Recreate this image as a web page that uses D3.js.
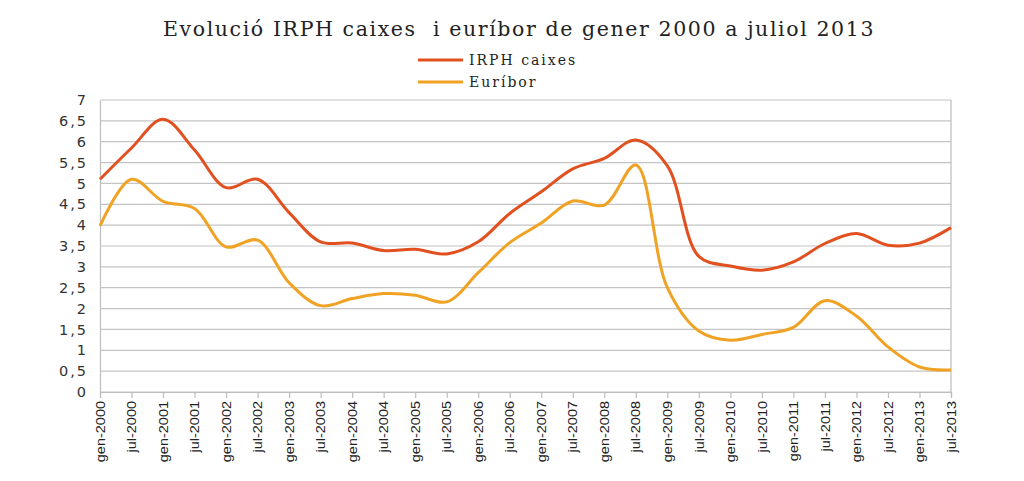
<!DOCTYPE html>
<html>
<head>
<meta charset="utf-8">
<script src="https://cdn.jsdelivr.net/npm/d3@7/dist/d3.min.js"></script>
<style>
  html, body { margin: 0; padding: 0; background: #fff; }
  svg { display: block; }
</style>
</head>
<body>
<svg id="chart" width="1024" height="481"></svg>
<script>
// half-yearly categories
const categories = ['gen-2000','jul-2000','gen-2001','jul-2001','gen-2002','jul-2002','gen-2003','jul-2003',
  'gen-2004','jul-2004','gen-2005','jul-2005','gen-2006','jul-2006','gen-2007','jul-2007',
  'gen-2008','jul-2008','gen-2009','jul-2009','gen-2010','jul-2010','gen-2011','jul-2011',
  'gen-2012','jul-2012','gen-2013','jul-2013'];
const irph = [5.1, 5.85, 6.54, 5.8, 4.9, 5.1, 4.3, 3.6, 3.57, 3.39, 3.42, 3.31, 3.6, 4.28,
  4.8, 5.35, 5.6, 6.04, 5.42, 3.25, 3.02, 2.92, 3.12, 3.56, 3.8, 3.52, 3.57, 3.94];
const euribor = [3.98, 5.1, 4.57, 4.4, 3.48, 3.64, 2.62, 2.07, 2.24, 2.36, 2.32, 2.16, 2.86, 3.58,
  4.05, 4.58, 4.48, 5.44, 2.5, 1.46, 1.24, 1.38, 1.55, 2.19, 1.82, 1.08, 0.6, 0.53];
const yTicks = d3.range(0, 7.01, 0.5);
const seriesNames = ['IRPH caixes', 'Euríbor'];
const seriesColors = ['#e2501f', '#f0a224'];

const svg = d3.select('#chart');
const margin = { left: 100, right: 73, top: 100, bottom: 89 };
const W = 1024, H = 481;

const x = d3.scalePoint().domain(categories).range([margin.left, W - margin.right]);
const y = d3.scaleLinear().domain([0, 7]).range([H - margin.bottom, margin.top]);

// title
svg.append('text')
  .attr('x', 519).attr('y', 36)
  .attr('text-anchor', 'middle')
  .attr('font-family', 'DejaVu Serif')
  .attr('font-size', 20.5)
  .attr('letter-spacing', 1.6)
  .attr('fill', '#222')
  .style('white-space', 'pre')
  .text('Evolució IRPH caixes  i euríbor de gener 2000 a juliol 2013');

// gridlines
svg.append('g')
  .selectAll('line')
  .data(yTicks)
  .enter().append('line')
  .attr('x1', margin.left).attr('x2', W - margin.right)
  .attr('y1', d => y(d)).attr('y2', d => y(d))
  .attr('stroke', '#c4c4c4').attr('stroke-width', 1.2);

// y axis
const yAxis = svg.append('g')
  .attr('transform', `translate(${margin.left},0)`)
  .call(d3.axisLeft(y).tickValues(yTicks).tickSize(0).tickPadding(12)
    .tickFormat(d => String(d).replace('.', ',')));
yAxis.select('.domain').attr('stroke', '#bdbdbd').attr('stroke-width', 1.2);
yAxis.selectAll('text')
  .attr('font-family', 'DejaVu Sans')
  .attr('font-size', 14.5)
  .attr('letter-spacing', 2)
  .attr('fill', '#333');

// right border
svg.append('line')
  .attr('x1', W - margin.right).attr('x2', W - margin.right)
  .attr('y1', y(7)).attr('y2', y(0))
  .attr('stroke', '#bdbdbd').attr('stroke-width', 1.2);

// x axis
const xAxis = svg.append('g')
  .attr('transform', `translate(0,${y(0)})`)
  .call(d3.axisBottom(x).tickSize(6).tickPadding(3));
xAxis.select('.domain').attr('stroke', '#bdbdbd').attr('stroke-width', 1.2);
xAxis.selectAll('.tick line').attr('stroke', '#bdbdbd').attr('stroke-width', 1.2);
// narrow-looking rotated labels: squash the glyph height
xAxis.selectAll('text')
  .attr('font-family', 'Liberation Sans, sans-serif')
  .attr('font-size', 14.5)
  .attr('fill', '#222')
  .attr('text-anchor', 'end')
  .attr('transform', 'rotate(-90) scale(1,0.82)')
  .attr('x', -9).attr('y', 0).attr('dy', '0.35em');

// lines
const line = d3.line()
  .x((d, i) => x(categories[i]))
  .y(d => y(d))
  .curve(d3.curveCatmullRom.alpha(0.5));

[irph, euribor].forEach((vals, k) => {
  svg.append('path')
    .datum(vals)
    .attr('d', line)
    .attr('fill', 'none')
    .attr('stroke', seriesColors[k])
    .attr('stroke-width', 3)
    .attr('stroke-linejoin', 'round');
});

// legend
const legend = svg.append('g');
seriesNames.forEach((name, k) => {
  const ly = 60 + k * 22;
  legend.append('line')
    .attr('x1', 418).attr('x2', 463)
    .attr('y1', ly).attr('y2', ly)
    .attr('stroke', seriesColors[k]).attr('stroke-width', 3);
  legend.append('text')
    .attr('x', 469).attr('y', ly + 5)
    .attr('font-family', 'DejaVu Serif')
    .attr('font-size', 14)
    .attr('letter-spacing', 2)
    .attr('fill', '#222')
    .text(name);
});
</script>
</body>
</html>
